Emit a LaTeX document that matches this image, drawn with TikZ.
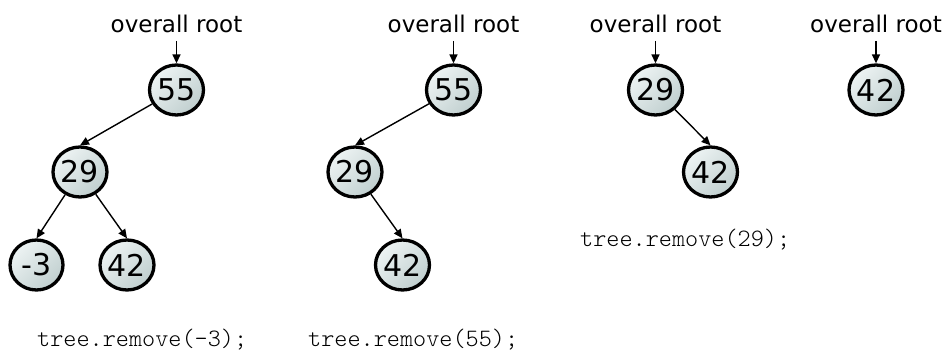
\documentclass[tikz,border=0pt]{standalone}
\usepackage{fontspec}
\setmainfont{DejaVu Sans}
\newfontfamily\codefont{lmmonolt10-regular.otf}
\usetikzlibrary{shapes.geometric,arrows.meta}
\definecolor{nodelight}{HTML}{EDF3F3}
\definecolor{nodedark}{HTML}{C0CFCF}
\tikzset{
  treenode/.style={ellipse, draw=black, line width=3.3pt,
    minimum width=53pt, minimum height=50pt, inner sep=0pt,
    top color=nodelight, bottom color=nodedark, shading angle=45,
    font=\fontsize{30}{30}\selectfont},
  rootlabel/.style={font=\fontsize{23}{23}\selectfont, inner xsep=0pt,
    inner ysep=8pt, outer sep=0pt},
  code/.style={font=\codefont\fontsize{25}{25}\selectfont, anchor=base west,
    inner sep=0pt},
  link/.style={line width=1.4pt, -{Triangle[length=9pt,width=8pt]}}
}
\begin{document}
\begin{tikzpicture}[x=1pt, y=-1pt]
\useasboundingbox (0,0) rectangle (946,350);

% first tree
\node[treenode] (a55) at (176.5,90) {55};
\node[treenode] (a29) at (80,172) {29};
\node[treenode] (am3) at (36.5,265) {-3};
\node[treenode] (a42) at (127,265) {42};
\node[rootlabel] (ra) at (176.5,24) {overall root};
\draw[link] (ra) -- (a55);
\draw[link] (a55) -- (a29.north);
\draw[link] (a29) -- (am3.north);
\draw[link] (a29) -- (a42.north);

% second tree
\node[treenode] (b55) at (453.5,90) {55};
\node[treenode] (b29) at (355,172) {29};
\node[treenode] (b42) at (402.5,265) {42};
\node[rootlabel] (rb) at (453.5,24) {overall root};
\draw[link] (rb) -- (b55);
\draw[link] (b55) -- (b29.north);
\draw[link] (b29) -- (b42.north);

% third tree
\node[treenode] (c29) at (655.5,90) {29};
\node[treenode] (c42) at (710.5,172) {42};
\node[rootlabel] (rc) at (655.5,24) {overall root};
\draw[link] (rc) -- (c29);
\draw[link] (c29) -- (c42.north);

% fourth tree
\node[treenode] (d42) at (876,90) {42};
\node[rootlabel] (rd) at (876,24) {overall root};
\draw[link] (rd) -- (d42);

% calls
\node[code] (ca) at (37,346) {tree.remove(-3);};
\node[code] (cb) at (308,346) {tree.remove(55);};
\node[code] (cc) at (580,247) {tree.remove(29);};
\end{tikzpicture}
\end{document}
